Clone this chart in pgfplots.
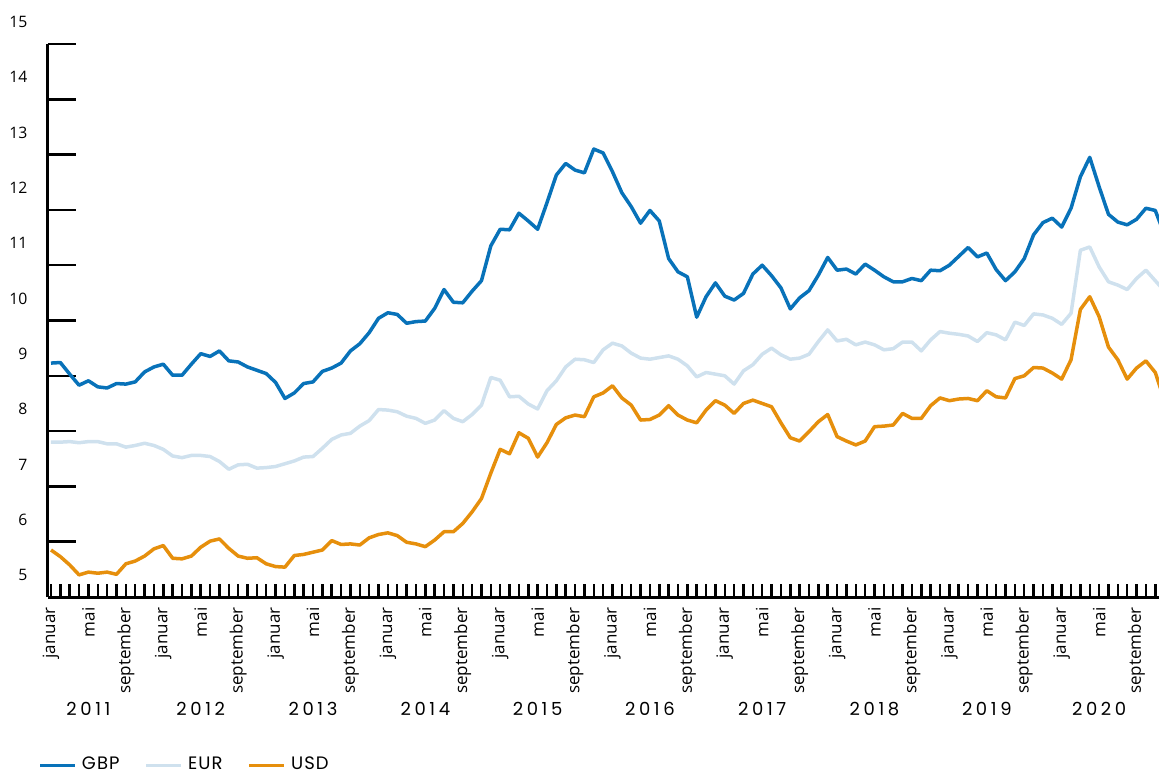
\documentclass[border=0pt]{standalone}
\usepackage{fontspec}
\setmainfont{Open Sans}
\newfontfamily\yearfont{Poppins}[LetterSpace=20]
\newfontfamily\legfont{Poppins}[LetterSpace=6]
\usepackage{pgfplots}
\usepackage{pgfplotstable}
\pgfplotsset{compat=1.18}

\definecolor{gbp}{HTML}{0872B9}
\definecolor{eur}{HTML}{CFE1EE}
\definecolor{usd}{HTML}{E68F0C}

% months since januar 2011, NOK per unit
\pgfplotstableread{
i gbp eur usd
0 9.23 7.80 5.85
1 9.24 7.80 5.73
2 9.03 7.81 5.58
3 8.83 7.79 5.40
4 8.91 7.81 5.45
5 8.80 7.81 5.43
6 8.78 7.77 5.45
7 8.86 7.77 5.41
8 8.85 7.71 5.60
9 8.89 7.74 5.65
10 9.07 7.78 5.74
11 9.16 7.74 5.87
12 9.21 7.67 5.93
13 9.01 7.55 5.70
14 9.01 7.52 5.69
15 9.21 7.56 5.74
16 9.40 7.56 5.90
17 9.35 7.54 6.01
18 9.45 7.45 6.05
19 9.27 7.31 5.88
20 9.25 7.39 5.74
21 9.16 7.40 5.70
22 9.10 7.33 5.71
23 9.04 7.34 5.60
24 8.88 7.36 5.55
25 8.59 7.41 5.54
26 8.69 7.46 5.75
27 8.86 7.53 5.77
28 8.89 7.54 5.81
29 9.08 7.69 5.85
30 9.14 7.85 6.02
31 9.23 7.93 5.95
32 9.45 7.96 5.96
33 9.58 8.09 5.94
34 9.78 8.19 6.07
35 10.04 8.39 6.13
36 10.14 8.38 6.16
37 10.11 8.35 6.11
38 9.95 8.27 5.99
39 9.98 8.23 5.96
40 9.99 8.14 5.91
41 10.22 8.20 6.03
42 10.56 8.37 6.18
43 10.33 8.23 6.18
44 10.32 8.17 6.33
45 10.53 8.30 6.54
46 10.72 8.47 6.78
47 11.35 8.97 7.24
48 11.65 8.92 7.67
49 11.64 8.62 7.59
50 11.94 8.63 7.97
51 11.80 8.49 7.87
52 11.65 8.40 7.53
53 12.13 8.73 7.79
54 12.63 8.91 8.12
55 12.84 9.16 8.24
56 12.72 9.30 8.29
57 12.67 9.29 8.26
58 13.10 9.24 8.62
59 13.03 9.47 8.69
60 12.69 9.59 8.82
61 12.31 9.54 8.60
62 12.06 9.41 8.47
63 11.76 9.32 8.20
64 11.99 9.30 8.21
65 11.80 9.33 8.29
66 11.12 9.36 8.46
67 10.88 9.30 8.29
68 10.79 9.18 8.20
69 10.06 8.98 8.15
70 10.43 9.06 8.38
71 10.68 9.03 8.55
72 10.44 9.00 8.47
73 10.37 8.85 8.32
74 10.49 9.09 8.50
75 10.84 9.20 8.56
76 11.00 9.39 8.50
77 10.81 9.50 8.44
78 10.59 9.38 8.15
79 10.21 9.30 7.88
80 10.41 9.32 7.82
81 10.54 9.39 7.99
82 10.82 9.62 8.17
83 11.14 9.83 8.30
84 10.91 9.63 7.90
85 10.93 9.66 7.82
86 10.84 9.56 7.75
87 11.02 9.61 7.82
88 10.91 9.56 8.08
89 10.79 9.47 8.09
90 10.70 9.49 8.11
91 10.70 9.61 8.32
92 10.76 9.61 8.23
93 10.72 9.45 8.23
94 10.91 9.65 8.46
95 10.90 9.80 8.60
96 11.00 9.77 8.55
97 11.16 9.75 8.58
98 11.32 9.72 8.59
99 11.15 9.62 8.55
100 11.22 9.78 8.73
101 10.92 9.74 8.62
102 10.72 9.65 8.60
103 10.88 9.97 8.95
104 11.12 9.91 9.00
105 11.55 10.12 9.15
106 11.77 10.10 9.14
107 11.85 10.04 9.05
108 11.69 9.93 8.94
109 12.03 10.13 9.29
110 12.60 11.27 10.20
111 12.95 11.33 10.43
112 12.42 10.97 10.07
113 11.92 10.70 9.52
114 11.78 10.64 9.29
115 11.73 10.56 8.94
116 11.83 10.76 9.14
117 12.03 10.91 9.27
118 11.99 10.72 9.06
119 11.55 10.53 8.55
}\kurser

\begin{document}
\begin{tikzpicture}
\begin{axis}[
    name=ax,
    scale only axis,
    width=444.4pt, height=221.2pt,
    xmin=-0.32, xmax=118.4,
    ymin=5, ymax=15,
    clip mode=individual,
    axis x line*=bottom, axis y line*=left,
    axis line style={line width=1.2pt, -},
    tick align=inside,
    ytick={5,...,15},
    xtick={0,4,...,116},
    xticklabels={januar,mai,september,januar,mai,september,januar,mai,september,
                 januar,mai,september,januar,mai,september,januar,mai,september,
                 januar,mai,september,januar,mai,september,januar,mai,september,
                 januar,mai,september},
    minor xtick={0,...,118},
    every major x tick/.style={draw=none},
    every minor x tick/.style={line width=1pt, black},
    every major y tick/.style={line width=1pt, black},
    minor tick length=5.2pt,
    major tick length=11.2pt,
    xticklabel shift=4pt,
    yticklabel shift=8pt,
    xticklabel style={rotate=90, anchor=east, inner sep=0pt,
                      font=\fontsize{6.8}{8}\selectfont},
    yticklabel style={anchor=east, inner sep=0pt, yshift=8.8pt,
                      font=\fontsize{6.3}{7}\selectfont},
    /pgf/number format/assume math mode=true,
    legend columns=3,
    legend image code/.code={\draw[#1] (0pt,0pt) -- (14pt,0pt);},
    legend style={at={(axis description cs:0,0)}, anchor=west,
                  xshift=-4pt, yshift=-67.4pt,
                  draw=none, fill=none, inner sep=0pt,
                  font=\legfont\fontsize{7.2}{8}\selectfont,
                  /tikz/every even column/.append style={column sep=8pt}},
    every axis plot/.append style={line width=1.4pt, line join=round},
]
\addplot[gbp] table[x=i, y=gbp] {\kurser};
\addplot[eur] table[x=i, y=eur] {\kurser};
\addplot[usd] table[x=i, y=usd] {\kurser};
\legend{GBP, EUR, USD}

\pgfplotsinvokeforeach{0,...,9}{
  \node[font=\yearfont\fontsize{7.2}{8}\selectfont, yshift=-44.8pt]
    at (axis cs:{12*#1+4},5) {\pgfmathtruncatemacro\yr{2011+#1}\yr};
}
\end{axis}
\pgfresetboundingbox
\path[use as bounding box] ([shift={(-19.2pt,-71.6pt)}]ax.south west)
  rectangle ([shift={(0pt,238.8pt)}]ax.south east);
\end{tikzpicture}
\end{document}
